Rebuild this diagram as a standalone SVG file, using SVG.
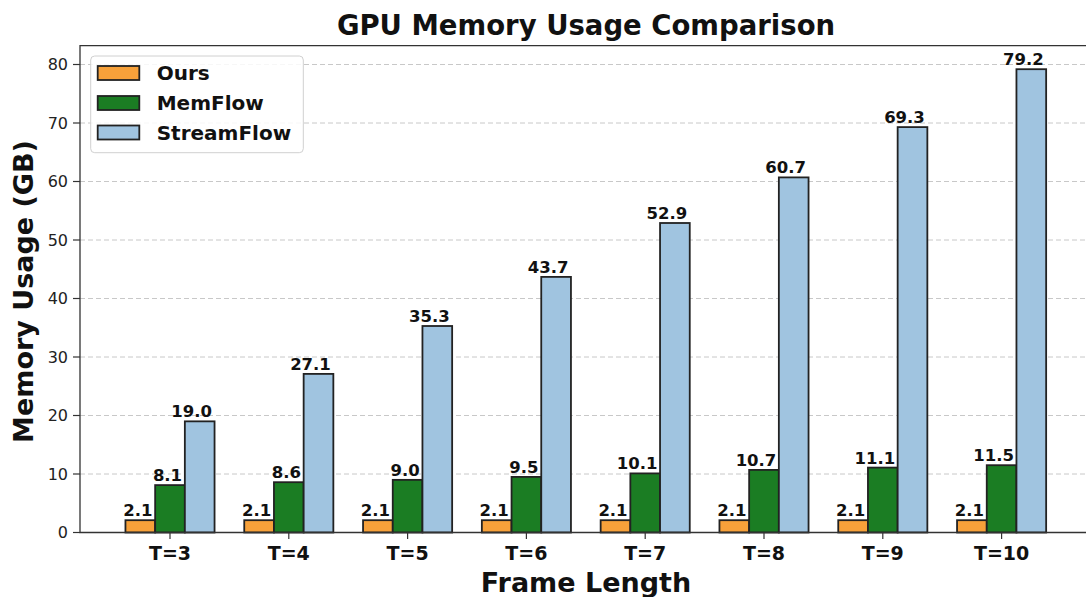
<svg xmlns="http://www.w3.org/2000/svg" width="1086" height="597" viewBox="0 0 1086 597">
<style>
text{font-family:"DejaVu Sans","Liberation Sans",sans-serif;fill:#111}
.b{font-weight:bold}
.yt{font-size:16px;text-anchor:end;fill:#222}
.xt{font-size:19px;font-weight:bold;text-anchor:middle}
.vl{font-size:16.5px;font-weight:bold;text-anchor:middle}
.lg{font-size:20px;font-weight:bold}
.grid{stroke:#c8c8c8;stroke-width:1;stroke-dasharray:5,3}
.bar{stroke:#222;stroke-width:1.8}
.o{fill:#f7a13a}.g{fill:#1b7d23}.s{fill:#a0c4e0}
.tick{stroke:#333;stroke-width:1.2}
.spine{stroke:#333;stroke-width:1.3;fill:none}
</style>
<rect width="1086" height="597" fill="#fff"/>
<text class="b" x="586" y="35" font-size="27.5" text-anchor="middle">GPU Memory Usage Comparison</text>
<g id="grid">
<line class="grid" x1="80" y1="474" x2="1086" y2="474"/>
<line class="grid" x1="80" y1="415.5" x2="1086" y2="415.5"/>
<line class="grid" x1="80" y1="357" x2="1086" y2="357"/>
<line class="grid" x1="80" y1="298.5" x2="1086" y2="298.5"/>
<line class="grid" x1="80" y1="240" x2="1086" y2="240"/>
<line class="grid" x1="80" y1="181.5" x2="1086" y2="181.5"/>
<line class="grid" x1="80" y1="123" x2="1086" y2="123"/>
<line class="grid" x1="80" y1="64.5" x2="1086" y2="64.5"/>
</g>
<g id="bars-ours">
<rect class="bar o" x="125.45" y="520.2" width="29.7" height="12.3"/>
<rect class="bar o" x="244.25" y="520.2" width="29.7" height="12.3"/>
<rect class="bar o" x="363.05" y="520.2" width="29.7" height="12.3"/>
<rect class="bar o" x="481.85" y="520.2" width="29.7" height="12.3"/>
<rect class="bar o" x="600.65" y="520.2" width="29.7" height="12.3"/>
<rect class="bar o" x="719.45" y="520.2" width="29.7" height="12.3"/>
<rect class="bar o" x="838.25" y="520.2" width="29.7" height="12.3"/>
<rect class="bar o" x="957.05" y="520.2" width="29.7" height="12.3"/>
</g>
<g id="bars-memflow">
<rect class="bar g" x="155.15" y="485.1" width="29.7" height="47.4"/>
<rect class="bar g" x="273.95" y="482.2" width="29.7" height="50.3"/>
<rect class="bar g" x="392.75" y="479.85" width="29.7" height="52.65"/>
<rect class="bar g" x="511.55" y="476.9" width="29.7" height="55.6"/>
<rect class="bar g" x="630.35" y="473.4" width="29.7" height="59.1"/>
<rect class="bar g" x="749.15" y="469.9" width="29.7" height="62.6"/>
<rect class="bar g" x="867.95" y="467.6" width="29.7" height="64.9"/>
<rect class="bar g" x="986.75" y="465.2" width="29.7" height="67.3"/>
</g>
<g id="bars-streamflow">
<rect class="bar s" x="184.85" y="421.35" width="29.7" height="111.15"/>
<rect class="bar s" x="303.65" y="373.9" width="29.7" height="158.6"/>
<rect class="bar s" x="422.45" y="326" width="29.7" height="206.5"/>
<rect class="bar s" x="541.25" y="276.9" width="29.7" height="255.6"/>
<rect class="bar s" x="660.05" y="223" width="29.7" height="309.5"/>
<rect class="bar s" x="778.85" y="177.4" width="29.7" height="355.1"/>
<rect class="bar s" x="897.65" y="127.1" width="29.7" height="405.4"/>
<rect class="bar s" x="1016.45" y="69.2" width="29.7" height="463.3"/>
</g>
<g id="value-labels">
<text class="vl" x="137.8" y="516">2.1</text>
<text class="vl" x="256.6" y="516">2.1</text>
<text class="vl" x="375.4" y="516">2.1</text>
<text class="vl" x="494.2" y="516">2.1</text>
<text class="vl" x="613" y="516">2.1</text>
<text class="vl" x="731.8" y="516">2.1</text>
<text class="vl" x="850.6" y="516">2.1</text>
<text class="vl" x="969.4" y="516">2.1</text>
<text class="vl" x="167.5" y="481.1">8.1</text>
<text class="vl" x="286.3" y="478.2">8.6</text>
<text class="vl" x="405.1" y="475.85">9.0</text>
<text class="vl" x="523.9" y="472.9">9.5</text>
<text class="vl" x="637.2" y="469.4">10.1</text>
<text class="vl" x="756" y="465.9">10.7</text>
<text class="vl" x="874.8" y="463.6">11.1</text>
<text class="vl" x="993.6" y="461.2">11.5</text>
<text class="vl" x="191.7" y="417.35">19.0</text>
<text class="vl" x="310.5" y="369.9">27.1</text>
<text class="vl" x="429.3" y="322">35.3</text>
<text class="vl" x="548.1" y="272.9">43.7</text>
<text class="vl" x="666.9" y="219">52.9</text>
<text class="vl" x="785.7" y="173.4">60.7</text>
<text class="vl" x="904.5" y="123.1">69.3</text>
<text class="vl" x="1023.3" y="65.2">79.2</text>
</g>
<g id="axes">
<polyline class="spine" points="1086,45.7 80,45.7 80,532.5 1086,532.5"/>
<g id="y-ticks">
<line class="tick" x1="73" y1="532.5" x2="80" y2="532.5"/>
<line class="tick" x1="73" y1="474" x2="80" y2="474"/>
<line class="tick" x1="73" y1="415.5" x2="80" y2="415.5"/>
<line class="tick" x1="73" y1="357" x2="80" y2="357"/>
<line class="tick" x1="73" y1="298.5" x2="80" y2="298.5"/>
<line class="tick" x1="73" y1="240" x2="80" y2="240"/>
<line class="tick" x1="73" y1="181.5" x2="80" y2="181.5"/>
<line class="tick" x1="73" y1="123" x2="80" y2="123"/>
<line class="tick" x1="73" y1="64.5" x2="80" y2="64.5"/>
<text class="yt" x="68" y="538">0</text>
<text class="yt" x="68" y="479.5">10</text>
<text class="yt" x="68" y="421">20</text>
<text class="yt" x="68" y="362.5">30</text>
<text class="yt" x="68" y="304">40</text>
<text class="yt" x="68" y="245.5">50</text>
<text class="yt" x="68" y="187">60</text>
<text class="yt" x="68" y="128.5">70</text>
<text class="yt" x="68" y="70">80</text>
</g>
<g id="x-ticks">
<line class="tick" x1="170" y1="532.5" x2="170" y2="539"/>
<line class="tick" x1="288.8" y1="532.5" x2="288.8" y2="539"/>
<line class="tick" x1="407.6" y1="532.5" x2="407.6" y2="539"/>
<line class="tick" x1="526.4" y1="532.5" x2="526.4" y2="539"/>
<line class="tick" x1="645.2" y1="532.5" x2="645.2" y2="539"/>
<line class="tick" x1="764" y1="532.5" x2="764" y2="539"/>
<line class="tick" x1="882.8" y1="532.5" x2="882.8" y2="539"/>
<line class="tick" x1="1001.6" y1="532.5" x2="1001.6" y2="539"/>
<text class="xt" x="170" y="560">T=3</text>
<text class="xt" x="288.8" y="560">T=4</text>
<text class="xt" x="407.6" y="560">T=5</text>
<text class="xt" x="526.4" y="560">T=6</text>
<text class="xt" x="645.2" y="560">T=7</text>
<text class="xt" x="764" y="560">T=8</text>
<text class="xt" x="882.8" y="560">T=9</text>
<text class="xt" x="1001.6" y="560">T=10</text>
</g>
<text class="b" x="586" y="592" font-size="27" text-anchor="middle">Frame Length</text>
<text class="b" transform="translate(33,291.5) rotate(-90)" font-size="27" text-anchor="middle">Memory Usage (GB)</text>
</g>
<g id="legend">
<rect x="90.7" y="56" width="212.6" height="96.7" rx="4" fill="#fff" fill-opacity="0.85" stroke="#d0d0d0" stroke-width="1"/>
<rect class="bar o" x="97.7" y="66" width="41.6" height="14"/>
<rect class="bar g" x="97.7" y="96" width="41.6" height="14"/>
<rect class="bar s" x="97.7" y="125.5" width="41.6" height="14"/>
<text class="lg" x="156.7" y="80">Ours</text>
<text class="lg" x="156.7" y="110">MemFlow</text>
<text class="lg" x="156.7" y="139.5">StreamFlow</text>
</g>
</svg>
